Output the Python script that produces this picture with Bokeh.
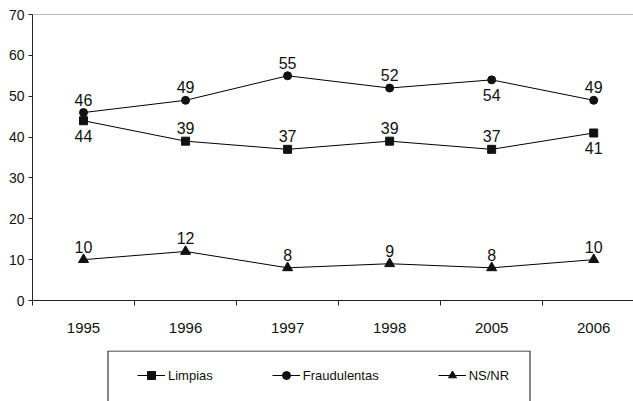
from bokeh.plotting import figure
from bokeh.layouts import column
from bokeh.models import (ColumnDataSource, FixedTicker, Span, Legend, LegendItem,
                          BoxAnnotation, Range1d)
from bokeh.core.properties import value
from bokeh.embed import file_html
from bokeh.resources import INLINE

years = ["1995", "1996", "1997", "1998", "2005", "2006"]
limpias = [44, 39, 37, 39, 37, 41]
fraudulentas = [46, 49, 55, 52, 54, 49]
nsnr = [10, 12, 8, 9, 8, 10]
limpias_pos = ["below", "above", "above", "above", "above", "below"]
fraud_pos = ["above", "above", "above", "above", "below", "above"]
nsnr_pos = ["above"] * 6

FONT = "Liberation Sans"
INK = "#111111"
xs = [i + 0.5 for i in range(len(years))]

p = figure(width=633, height=350, output_backend="svg", toolbar_location=None,
           x_range=(0, 5.89), y_range=(0, 70),
           min_border_left=32, min_border_right=0, min_border_top=14, min_border_bottom=50)
p.outline_line_color = None
p.xgrid.visible = False
p.ygrid.visible = False

# y axis
p.yaxis.ticker = FixedTicker(ticks=list(range(0, 71, 10)))
p.yaxis.minor_tick_line_color = None
p.yaxis.major_tick_out = 4
p.yaxis.major_tick_in = 0
p.yaxis.major_label_standoff = 4
p.yaxis.major_label_text_font = FONT
p.yaxis.major_label_text_font_size = "14px"
p.yaxis.major_label_text_color = INK
p.yaxis.axis_line_color = "#222222"
p.yaxis.major_tick_line_color = "#222222"

# x axis: labels at category centres, ticks on category boundaries
p.xaxis.ticker = FixedTicker(ticks=xs, minor_ticks=list(range(0, len(years) + 1)))
p.xaxis.major_label_overrides = {x: y for x, y in zip(xs, years)}
p.xaxis.major_tick_out = 0
p.xaxis.major_tick_in = 0
p.xaxis.minor_tick_out = 5
p.xaxis.minor_tick_in = 0
p.xaxis.major_label_standoff = 17
p.xaxis.major_label_text_font = FONT
p.xaxis.major_label_text_font_size = "15px"
p.xaxis.major_label_text_color = INK
p.xaxis.axis_line_color = "#222222"
p.xaxis.minor_tick_line_color = "#222222"

p.add_layout(Span(location=70, dimension="width", line_color="#777777", line_width=1))

series = [("Limpias", limpias, limpias_pos, "square", 8),
          ("Fraudulentas", fraudulentas, fraud_pos, "circle", 8),
          ("NS/NR", nsnr, nsnr_pos, "triangle", 10)]
for name, vals, pos, marker, size in series:
    src = ColumnDataSource(dict(x=xs, y=vals, t=[str(v) for v in vals],
                                off=[-13 if q == "above" else 15 for q in pos]))
    p.line("x", "y", source=src, line_color="black", line_width=1)
    p.scatter("x", "y", source=src, marker=marker, size=size,
              fill_color=INK, line_color=INK)
    p.text("x", "y", text="t", source=src, y_offset="off",
           text_align="center", text_baseline="middle",
           text_font=value(FONT), text_font_size="16px", text_color=INK)

# legend strip below the chart (its frame is aligned with the chart frame: x 32..633 px)
lf = figure(width=633, height=51, output_backend="svg", toolbar_location=None,
            x_range=Range1d(32, 633), y_range=Range1d(51, 0),
            min_border_left=32, min_border_right=0, min_border_top=0, min_border_bottom=0)
lf.axis.visible = False
lf.grid.visible = False
lf.outline_line_color = None
lf.add_layout(BoxAnnotation(left=107.5, right=529.5, top=0.5, bottom=80,
                            fill_color="white", fill_alpha=1,
                            line_color="#111111", line_alpha=1, line_width=1))
items = []
for name, vals, pos, marker, size in series:
    # same series, drawn off-frame here: only the legend glyphs are visible
    src = ColumnDataSource(dict(x=xs, y=vals))
    ln = lf.line("x", "y", source=src, line_color="black", line_width=1)
    sc = lf.scatter("x", "y", source=src, marker=marker, size=size,
                    fill_color=INK, line_color=INK)
    items.append(LegendItem(label=name, renderers=[ln, sc]))

legend = Legend(items=items, orientation="horizontal", location=(105, 16),
                padding=0, spacing=59, glyph_width=28, glyph_height=20,
                label_height=20, label_standoff=3, margin=0,
                label_text_font=FONT, label_text_font_size="13px",
                label_text_color=INK,
                border_line_color=None, background_fill_alpha=0)
lf.add_layout(legend, "center")

open("out.html", "w").write(file_html(column(p, lf), INLINE))
